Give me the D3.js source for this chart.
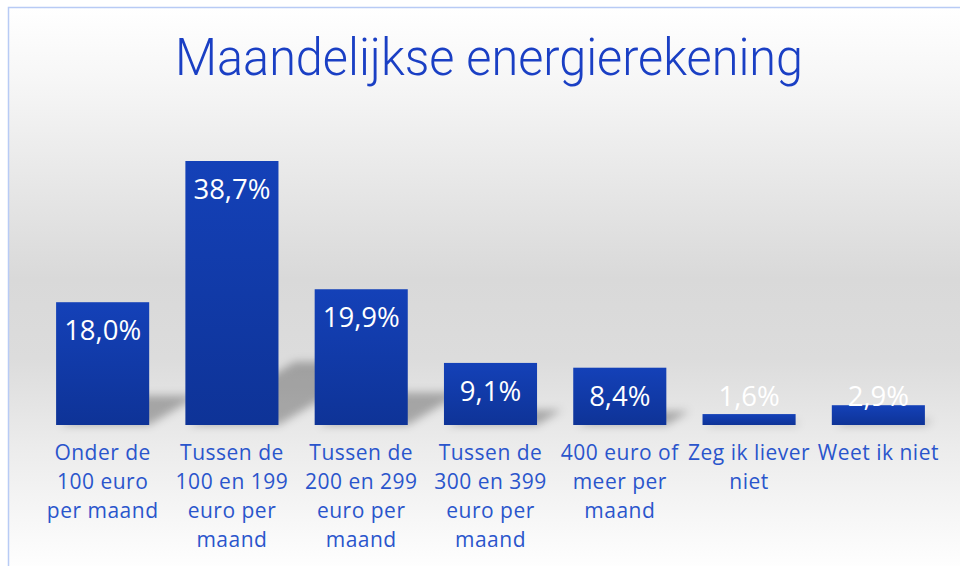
<!DOCTYPE html>
<html><head><meta charset="utf-8">
<script src="https://cdn.jsdelivr.net/npm/d3@7"></script>
<style>html,body{margin:0;padding:0;background:#fff;}svg{display:block;}</style>
</head><body>
<svg id="chart" width="960" height="566"></svg>
<script>
const title = "Maandelijkse energierekening";
const categories = [
  "Onder de 100 euro per maand",
  "Tussen de 100 en 199 euro per maand",
  "Tussen de 200 en 299 euro per maand",
  "Tussen de 300 en 399 euro per maand",
  "400 euro of meer per maand",
  "Zeg ik liever niet",
  "Weet ik niet"
];
const values = [18.0, 38.7, 19.9, 9.1, 8.4, 1.6, 2.9];

const svg = d3.select("#chart");
const W = 960, H = 566;
const defs = svg.append("defs");

const bg = defs.append("linearGradient").attr("id","bg").attr("x1",0).attr("y1",0).attr("x2",0).attr("y2",1);
[[0,"#ffffff"],[0.12,"#f7f7f7"],[0.48,"#d9d9d9"],[0.62,"#dcdcdc"],[0.78,"#ececec"],[1,"#ffffff"]]
  .forEach(([o,c])=>bg.append("stop").attr("offset",o).attr("stop-color",c));

const bar = defs.append("linearGradient").attr("id","bar").attr("x1",0).attr("y1",0).attr("x2",0).attr("y2",1);
bar.append("stop").attr("offset",0).attr("stop-color","#1441b8");
bar.append("stop").attr("offset",1).attr("stop-color","#0e3397");

const blur = defs.append("filter").attr("id","blur").attr("x","-50%").attr("y","-50%").attr("width","200%").attr("height","200%");
blur.append("feGaussianBlur").attr("stdDeviation",4);

svg.append("rect").attr("x",8.5).attr("y",7.5).attr("width",W).attr("height",H)
  .attr("fill","url(#bg)").attr("stroke","#b8cbf5").attr("stroke-width",1.5);

svg.append("text").attr("x",489).attr("y",75).attr("text-anchor","middle")
  .attr("font-family","Roboto,'Liberation Sans',sans-serif").attr("font-weight",300)
  .attr("font-size",52).attr("fill","#1a3fc4")
  .attr("textLength",628).attr("lengthAdjust","spacingAndGlyphs")
  .text(title);

const x = d3.scaleBand().domain(categories).range([38, 943]).paddingInner(0.28).paddingOuter(0.14);
const y = d3.scaleLinear().domain([0, 38.7]).range([425, 161]);

const data = categories.map((c,i)=>({c, v: values[i]}));

// perspective shadows
svg.append("g").attr("filter","url(#blur)").selectAll("path").data(data).join("path")
  .attr("d", d=>{
    const x0 = x(d.c), x1 = x0 + x.bandwidth(), b = y(0), h = y(0) - y(d.v);
    const dx = h*0.4, dy = h*0.24;
    return `M${x0+4},${b} L${x1},${b} L${x1+dx},${b-dy} L${x0+4+dx},${b-dy} Z`;
  })
  .attr("fill","#000").attr("opacity",0.28);

svg.append("g").selectAll("rect").data(data).join("rect")
  .attr("x", d=>x(d.c)).attr("width", x.bandwidth())
  .attr("y", d=>y(d.v)).attr("height", d=>y(0)-y(d.v))
  .attr("fill","url(#bar)");

svg.append("g").selectAll("text").data(data).join("text")
  .attr("x", d=>x(d.c)+x.bandwidth()/2)
  .attr("y", d=>Math.min(y(d.v)+38, y(0)-19))
  .attr("text-anchor","middle")
  .attr("font-family","'Open Sans',sans-serif").attr("font-size",27.5)
  .attr("fill","#ffffff")
  .text(d=>d3.format(".1f")(d.v).replace(".",",")+"%");

// category labels with wrapping
const xAxis = d3.axisBottom(x).tickSize(0).tickPadding(0);
const ax = svg.append("g").attr("transform","translate(0,425)").call(xAxis);
ax.select(".domain").remove();
ax.selectAll("text").remove();
const maxW = 128;
ax.selectAll(".tick").each(function(d){
  const g = d3.select(this);
  const t = g.append("text").attr("text-anchor","middle")
    .attr("font-family","'Open Sans',sans-serif").attr("font-size",21)
    .attr("letter-spacing",0.5)
    .attr("fill","#2a55cc");
  const words = d.split(" ");
  let lines = [], cur = "";
  const probe = t.append("tspan");
  words.forEach(w=>{
    const test = cur ? cur+" "+w : w;
    probe.text(test);
    if (probe.node().getComputedTextLength() > maxW && cur) { lines.push(cur); cur = w; }
    else cur = test;
  });
  lines.push(cur);
  probe.remove();
  lines.forEach((l,i)=>t.append("tspan").attr("x",0).attr("y",35+i*29).text(l));
});
</script>
</body></html>
